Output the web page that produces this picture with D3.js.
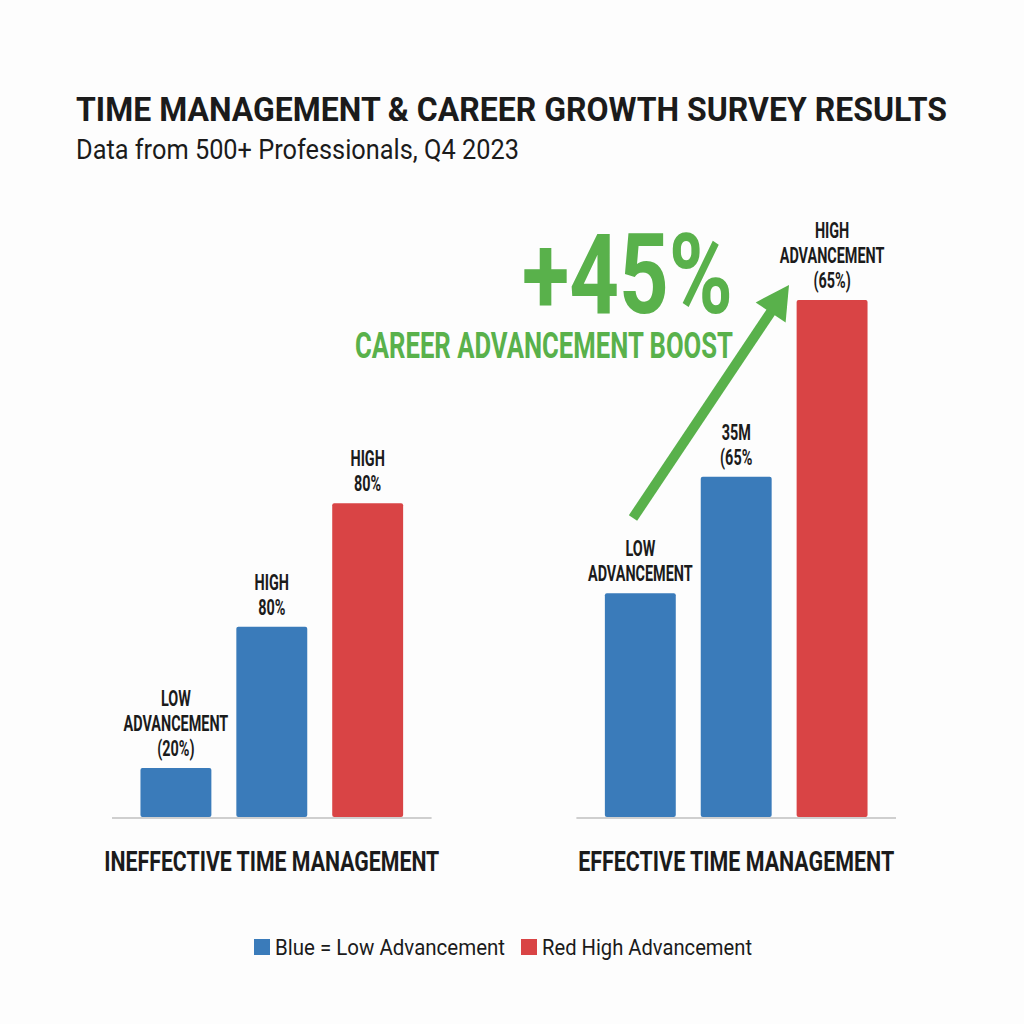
<!DOCTYPE html>
<html>
<head>
<meta charset="utf-8">
<script src="https://cdn.jsdelivr.net/npm/d3@7"></script>
<style>
  html, body { margin: 0; padding: 0; background: #ffffff; }
  svg { display: block; }
  text { font-family: Roboto, "Liberation Sans", "DejaVu Sans", sans-serif; }
</style>
</head>
<body>
<svg id="chart" width="1024" height="1024"></svg>
<script>
// ---- data ----
const groups = ["INEFFECTIVE TIME MANAGEMENT", "EFFECTIVE TIME MANAGEMENT"];
const barKeys = ["a", "b", "c"];
const ineffectiveValues = [9.5, 36.8, 60.7];
const effectiveValues = [43.3, 65.8, 100];
const barColorKeys = ["low", "low", "high"];
const ineffectiveLabels = [["LOW", "ADVANCEMENT", "(20%)"], ["HIGH", "80%"], ["HIGH", "80%"]];
const effectiveLabels = [["LOW", "ADVANCEMENT"], ["35M", "(65%"], ["HIGH", "ADVANCEMENT", "(65%)"]];
const legendItems = ["Blue = Low Advancement", "Red High Advancement"];
const legendKeys = ["low", "high"];
const titleText = "TIME MANAGEMENT & CAREER GROWTH SURVEY RESULTS";
const subtitleText = "Data from 500+ Professionals, Q4 2023";
const boostValue = "+45%";
const boostText = "CAREER ADVANCEMENT BOOST";

// ---- style ----
const colors = { low: "#3a7bba", high: "#d94445", green: "#59b14b", text: "#1b1b1b", axis: "#cfcfcf" };

const svg = d3.select("#chart");
svg.append("rect").attr("width", 1024).attr("height", 1024).attr("fill", "#fdfdfd");

function fit(sel, target) {
  sel.attr("textLength", target).attr("lengthAdjust", "spacingAndGlyphs");
}
function condense(sel, factor) {
  sel.each(function () {
    const w = this.getComputedTextLength();
    d3.select(this).attr("textLength", w * factor).attr("lengthAdjust", "spacingAndGlyphs");
  });
}

// title
svg.append("text").attr("x", 76).attr("y", 121).attr("font-size", 34).attr("font-weight", 700)
  .attr("fill", colors.text).text(titleText).call(fit, 871);
svg.append("text").attr("x", 76).attr("y", 159).attr("font-size", 27).attr("font-weight", 400)
  .attr("fill", colors.text).text(subtitleText).call(fit, 443);

// scales
const x0 = d3.scaleBand().domain(groups).range([112, 896]).paddingInner(145 / 465).paddingOuter(0);
const x1 = d3.scaleBand().domain(barKeys).range([0, x0.bandwidth()]).paddingInner(25 / 96).paddingOuter(28.5 / 96);
const y = d3.scaleLinear().domain([0, 100]).range([817, 300]);

const data = groups.map((g, gi) => ({
  group: g,
  bars: barKeys.map((k, i) => ({
    key: k,
    value: gi === 0 ? ineffectiveValues[i] : effectiveValues[i],
    color: barColorKeys[i],
    label: gi === 0 ? ineffectiveLabels[i] : effectiveLabels[i]
  }))
}));

const gGroups = svg.selectAll("g.grp").data(data).join("g")
  .attr("class", "grp")
  .attr("transform", d => `translate(${x0(d.group)},0)`);

// baseline
gGroups.append("line")
  .attr("x1", 0).attr("x2", x0.bandwidth())
  .attr("y1", y(0) + 1).attr("y2", y(0) + 1)
  .attr("stroke", colors.axis).attr("stroke-width", 2);

// bars
gGroups.selectAll("rect.bar").data(d => d.bars).join("rect")
  .attr("class", "bar")
  .attr("x", d => x1(d.key))
  .attr("width", x1.bandwidth())
  .attr("y", d => y(d.value))
  .attr("height", d => y(0) - y(d.value))
  .attr("rx", 2)
  .attr("fill", d => colors[d.color]);

// bar labels
gGroups.selectAll("text.lbl").data(d => d.bars).join("text")
  .attr("class", "lbl")
  .attr("text-anchor", "middle")
  .attr("font-size", 21.5).attr("font-weight", 700)
  .attr("fill", colors.text)
  .each(function (d) {
    const t = d3.select(this);
    const n = d.label.length;
    d.label.forEach((line, i) => {
      t.append("tspan")
        .attr("x", x1(d.key) + x1.bandwidth() / 2)
        .attr("y", y(d.value) - 12 - (n - 1 - i) * 25)
        .text(line);
    });
  });
gGroups.selectAll("text.lbl tspan").call(condense, 0.67);

// group labels
gGroups.append("text")
  .attr("x", x0.bandwidth() / 2)
  .attr("y", 871)
  .attr("text-anchor", "middle")
  .attr("font-size", 27).attr("font-weight", 700)
  .attr("fill", colors.text)
  .text(d => d.group)
  .each(function (d, i) { d3.select(this).call(fit, i === 0 ? 335 : 316); });

// annotation: +45% and arrow
svg.append("text").attr("x", 522).attr("y", 313).attr("font-size", 112).attr("font-weight", 700)
  .attr("fill", colors.green).text(boostValue).call(fit, 211);
svg.append("text").attr("x", 355).attr("y", 358).attr("font-size", 36).attr("font-weight", 700)
  .attr("fill", colors.green).text(boostText).call(fit, 378);

const tail = [633, 518], tip = [789, 285];
const dx = tip[0] - tail[0], dy = tip[1] - tail[1];
const len = Math.hypot(dx, dy);
const ux = dx / len, uy = dy / len;
const headLen = 33, headHalf = 18;
const base = [tip[0] - ux * headLen, tip[1] - uy * headLen];
svg.append("line")
  .attr("x1", tail[0]).attr("y1", tail[1])
  .attr("x2", base[0] + ux * 2).attr("y2", base[1] + uy * 2)
  .attr("stroke", colors.green).attr("stroke-width", 10);
svg.append("path")
  .attr("d", d3.line()([
    tip,
    [base[0] - uy * headHalf, base[1] + ux * headHalf],
    [base[0] + uy * headHalf, base[1] - ux * headHalf]
  ]) + "Z")
  .attr("fill", colors.green);

// legend
const legendX = [254, 521];
const legendW = [230, 210];
const lg = svg.selectAll("g.leg").data(legendItems).join("g")
  .attr("class", "leg")
  .attr("transform", (d, i) => `translate(${legendX[i]},939)`);
lg.append("rect").attr("width", 16).attr("height", 16)
  .attr("fill", (d, i) => colors[legendKeys[i]]);
lg.append("text").attr("x", 21).attr("y", 15.5)
  .attr("font-size", 22.5).attr("fill", colors.text)
  .text(d => d)
  .each(function (d, i) { d3.select(this).call(fit, legendW[i]); });
</script>
</body>
</html>
